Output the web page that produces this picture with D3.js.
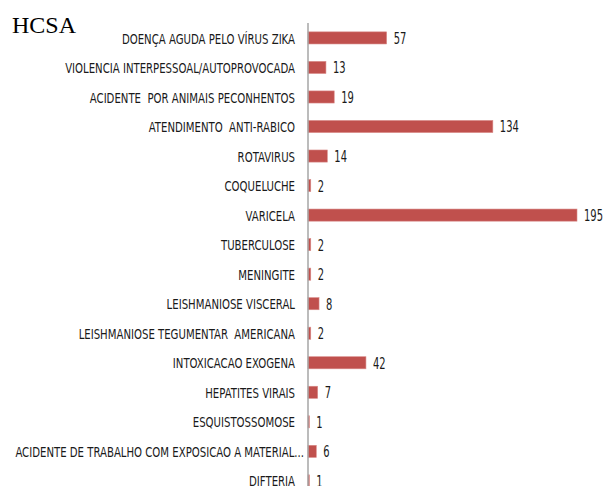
<!DOCTYPE html>
<html>
<head>
<meta charset="utf-8">
<script src="https://cdn.jsdelivr.net/npm/d3@7"></script>
<style>
  body { margin: 0; background: #fff; }
  text { white-space: pre; }
</style>
</head>
<body>
<div id="chart"></div>
<script>
// categories top to bottom, as in the picture
const categories = [
  "DOENÇA AGUDA PELO VÍRUS ZIKA",
  "VIOLENCIA INTERPESSOAL/AUTOPROVOCADA",
  "ACIDENTE  POR ANIMAIS PECONHENTOS",
  "ATENDIMENTO  ANTI-RABICO",
  "ROTAVIRUS",
  "COQUELUCHE",
  "VARICELA",
  "TUBERCULOSE",
  "MENINGITE",
  "LEISHMANIOSE VISCERAL",
  "LEISHMANIOSE TEGUMENTAR  AMERICANA",
  "INTOXICACAO EXOGENA",
  "HEPATITES VIRAIS",
  "ESQUISTOSSOMOSE",
  "ACIDENTE DE TRABALHO COM EXPOSICAO A MATERIAL...",
  "DIFTERIA"
];
const values = [57, 13, 19, 134, 14, 2, 195, 2, 2, 8, 2, 42, 7, 1, 6, 1];
const title = "HCSA";

const W = 605, H = 486;
const svg = d3.select("#chart").append("svg")
    .attr("width", W).attr("height", H);

const x0 = 308;
const x = d3.scaleLinear().domain([0, 195]).range([x0, x0 + 269]);
const y = d3.scaleBand().domain(categories)
    .range([23, 23 + 29.55 * categories.length])
    .paddingInner(0.59).paddingOuter(0.3);

const font = "'DejaVu Sans Condensed', 'DejaVu Sans', sans-serif";

// squeeze a text horizontally around its anchor x so it looks like the narrow original font
function squeeze(sel, k, ax) {
  sel.attr("transform", `translate(${ax},0) scale(${k},1) translate(${-ax},0)`);
}

// bars
svg.append("g").selectAll("rect")
    .data(values)
    .enter().append("rect")
    .attr("x", x(0))
    .attr("y", (d, i) => y(categories[i]))
    .attr("width", d => x(d) - x(0))
    .attr("height", y.bandwidth())
    .attr("fill", "#C0504D")
    .attr("stroke", "#d98a88")
    .attr("stroke-width", 0.6);

// value labels
const vl = svg.append("g").selectAll("text")
    .data(values)
    .enter().append("text")
    .attr("x", d => x(d) + 7)
    .attr("y", (d, i) => y(categories[i]) + y.bandwidth() / 2 + 6)
    .attr("font-family", font)
    .attr("font-size", 15.5)
    .attr("fill", "#1a1a1a")
    .text(d => d);
// "195" is about 19px wide in the picture
const wRef = vl.filter(d => d === 195).node().getComputedTextLength();
const kv = 19 / wRef;
vl.each(function(d) { squeeze(d3.select(this), kv, x(d) + 7); });

// category axis
const yAxis = d3.axisLeft(y).tickSize(0).tickPadding(13);
const ag = svg.append("g")
    .attr("transform", `translate(${x0},0)`)
    .call(yAxis);
ag.select(".domain").attr("stroke", "#a6a6a6").attr("stroke-width", 1.5)
    .attr("d", `M0,23V${H}`);
const labels = ag.selectAll("text")
    .attr("font-family", font)
    .attr("font-size", 14)
    .attr("dy", "0.4em")
    .attr("fill", "#1a1a1a");
// the second label spans about 230px in the picture
const lRef = labels.filter(d => d === categories[1]).node().getComputedTextLength();
const kl = 230 / lRef;
labels.each(function(d) {
  // the cut label runs a little past the others, as in the picture
  const ax = d.endsWith("...") ? -4 : -13;
  d3.select(this).attr("x", ax);
  squeeze(d3.select(this), kl, ax);
});

// title
svg.append("text")
    .attr("x", 12)
    .attr("y", 33)
    .attr("font-family", "'Liberation Serif', 'Times New Roman', serif")
    .attr("font-size", 24)
    .attr("fill", "#000")
    .text(title);
</script>
</body>
</html>
